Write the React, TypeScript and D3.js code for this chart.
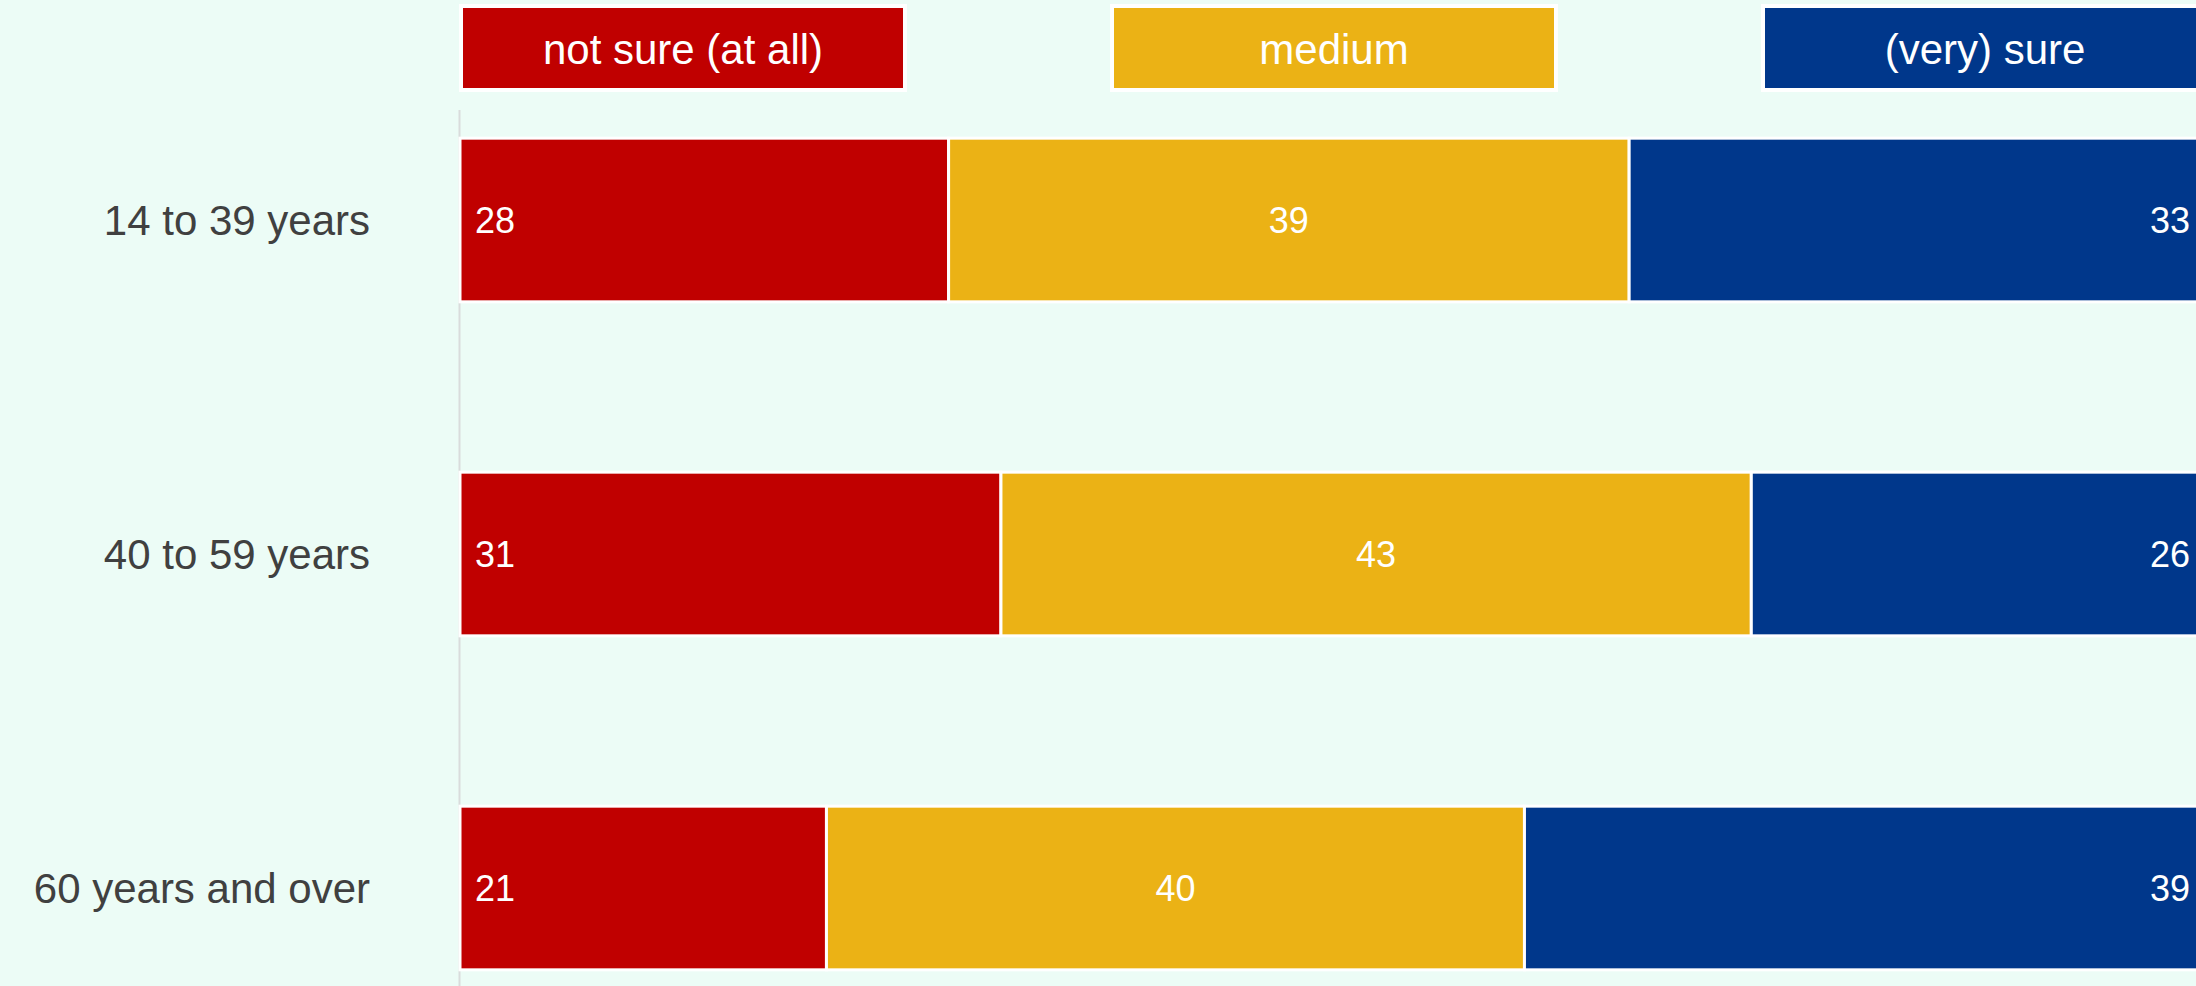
import React from "react";
import * as d3 from "d3";

const categories = ["14 to 39 years", "40 to 59 years", "60 years and over"];
const seriesNames = ["not sure (at all)", "medium", "(very) sure"];
const notSure = [28, 31, 21];
const medium = [39, 43, 40];
const verySure = [33, 26, 39];
const colors = ["#c00000", "#ebb215", "#00378b"];

const W = 2196;
const H = 986;
const FONT = "'Liberation Sans', Arial, Helvetica, sans-serif";

export default function App() {
  const rows = categories.map((c, i) => ({
    cat: c,
    s0: notSure[i],
    s1: medium[i],
    s2: verySure[i],
  }));
  const keys = ["s0", "s1", "s2"];
  const stacked = d3.stack<any>().keys(keys)(rows);

  const x = d3.scaleLinear().domain([0, 100]).range([460, 2205]);
  const y = d3
    .scaleBand<string>()
    .domain(categories)
    .range([53, 1055])
    .paddingInner(0.51)
    .paddingOuter(0.255);

  const legendX = d3
    .scalePoint<string>()
    .domain(seriesNames)
    .range([461, 1763]);
  const legendW = 444;

  return (
    <div style={{ position: "absolute", left: 0, top: 0 }}>
      <svg width={W} height={H} style={{ display: "block" }}>
        <rect x={0} y={0} width={W} height={H} fill="#ecfcf6" />
        {/* legend */}
        {seriesNames.map((s, i) => (
          <g key={s}>
            <rect
              x={legendX(s)}
              y={6}
              width={legendW}
              height={84}
              fill={colors[i]}
              stroke="#ffffff"
              strokeWidth={4}
            />
            <text
              x={(legendX(s) as number) + legendW / 2}
              y={64}
              textAnchor="middle"
              fill="#ffffff"
              fontFamily={FONT}
              fontSize={42}
            >
              {s}
            </text>
          </g>
        ))}
        {/* axis line */}
        <line x1={459.5} x2={459.5} y1={110} y2={H} stroke="#d9dcdc" strokeWidth={2} />
        {/* category labels */}
        {categories.map((c) => (
          <text
            key={c}
            x={370}
            y={(y(c) as number) + y.bandwidth() / 2 + 15}
            textAnchor="end"
            fill="#404040"
            fontFamily={FONT}
            fontSize={42}
          >
            {c}
          </text>
        ))}
        {/* bars */}
        {stacked.map((layer, si) => (
          <g key={layer.key}>
            {layer.map((d: any, i: number) => {
              const cat = categories[i];
              const x0 = x(d[0]);
              const x1 = x(d[1]);
              const yy = y(cat) as number;
              const bh = y.bandwidth();
              const val = d[1] - d[0];
              let tx = (x0 + x1) / 2;
              let anchor: any = "middle";
              if (si === 0) {
                tx = x0 + 15;
                anchor = "start";
              } else if (si === 2) {
                tx = W - 6;
                anchor = "end";
              }
              return (
                <g key={cat}>
                  <rect
                    x={x0}
                    y={yy}
                    width={x1 - x0}
                    height={bh}
                    fill={colors[si]}
                    stroke="#ffffff"
                    strokeWidth={3}
                  />
                  <text
                    x={tx}
                    y={yy + bh / 2 + 13}
                    textAnchor={anchor}
                    fill="#ffffff"
                    fontFamily={FONT}
                    fontSize={36}
                  >
                    {val}
                  </text>
                </g>
              );
            })}
          </g>
        ))}
      </svg>
    </div>
  );
}
